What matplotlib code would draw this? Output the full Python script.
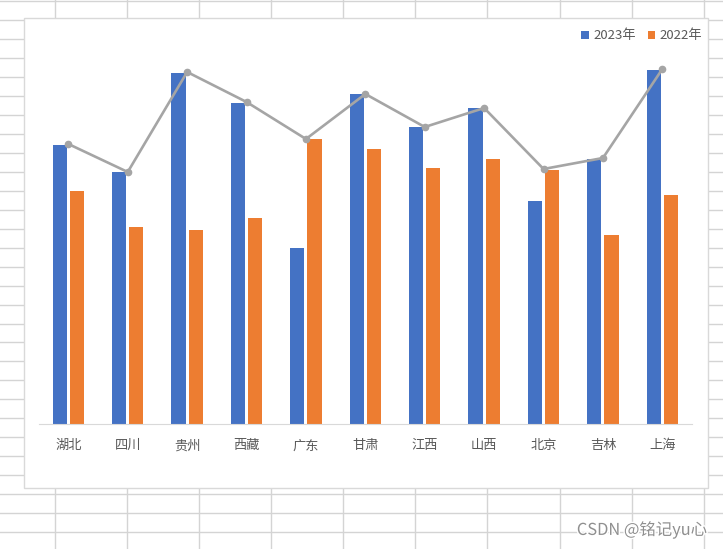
import numpy as np
import matplotlib
matplotlib.use("Agg")
import matplotlib.pyplot as plt
import matplotlib.patheffects as pe

plt.rcParams['font.family'] = ['Noto Sans CJK SC', 'DejaVu Sans']

provinces = ['湖北', '四川', '贵州', '西藏', '广东', '甘肃', '江西', '山西', '北京', '吉林', '上海']
v2023 = [279, 252, 351, 321, 176, 330, 297, 316, 223, 265, 354]
v2022 = [233, 197, 194, 206, 285, 275, 256, 265, 254, 189, 229]
trend = [280, 252, 352, 322, 285, 330, 297, 316, 255, 266, 355]

W, H = 723, 549
fig = plt.figure(figsize=(W / 100, H / 100), dpi=100)

# spreadsheet cells behind the chart
bg = fig.add_axes([0, 0, 1, 1])
bg.set_xlim(0, W)
bg.set_ylim(H, 0)
bg.axis('off')
for gx in np.arange(55.3, W, 72.03):
    bg.axvline(gx, color='#d4d4d4', lw=1)
for gy in np.arange(1.4, H, 18.95):
    bg.axhline(gy, color='#d4d4d4', lw=1)
bg.add_patch(plt.Rectangle((24, 18), 684, 470, facecolor='white',
                           edgecolor='#d9d9d9', lw=1, zorder=3))
bg.text(707, 530, 'CSDN @铭记yu心', ha='right', va='center', fontsize=11.8,
        color='#8f8f8f', zorder=4,
        path_effects=[pe.withStroke(linewidth=2, foreground='white')])

# chart
ax = fig.add_axes([38.65 / W, 1 - 424 / H, 653.4 / W, 374 / H])
ax.set_zorder(5)
ax.patch.set_alpha(0)
x = np.arange(len(provinces))
bw = 0.24
ax.bar(x - 0.145, v2023, bw, color='#4472c4', label='2023年')
ax.bar(x + 0.145, v2022, bw, color='#ed7d31', label='2022年')
ax.plot(x, trend, color='#a5a5a5', lw=1.9, marker='o', markersize=4.5)

ax.set_xlim(-0.5, len(provinces) - 0.5)
ax.set_ylim(0, 374)
ax.set_xticks(x)
ax.set_xticklabels(provinces, fontsize=9.5, color='#595959')
ax.tick_params(axis='x', length=0, pad=11)
ax.set_yticks([])
for s in ['top', 'right', 'left']:
    ax.spines[s].set_visible(False)
ax.spines['bottom'].set_color('#d9d9d9')

ax.legend(loc='center right', bbox_to_anchor=(702 / W, 1 - 36 / H),
          bbox_transform=fig.transFigure, ncol=2, frameon=False,
          borderpad=0, borderaxespad=0,
          fontsize=9.5, labelcolor='#595959', handlelength=0.6, handleheight=0.6,
          handletextpad=0.3, columnspacing=0.9)

fig.savefig('out.png', dpi=100)
